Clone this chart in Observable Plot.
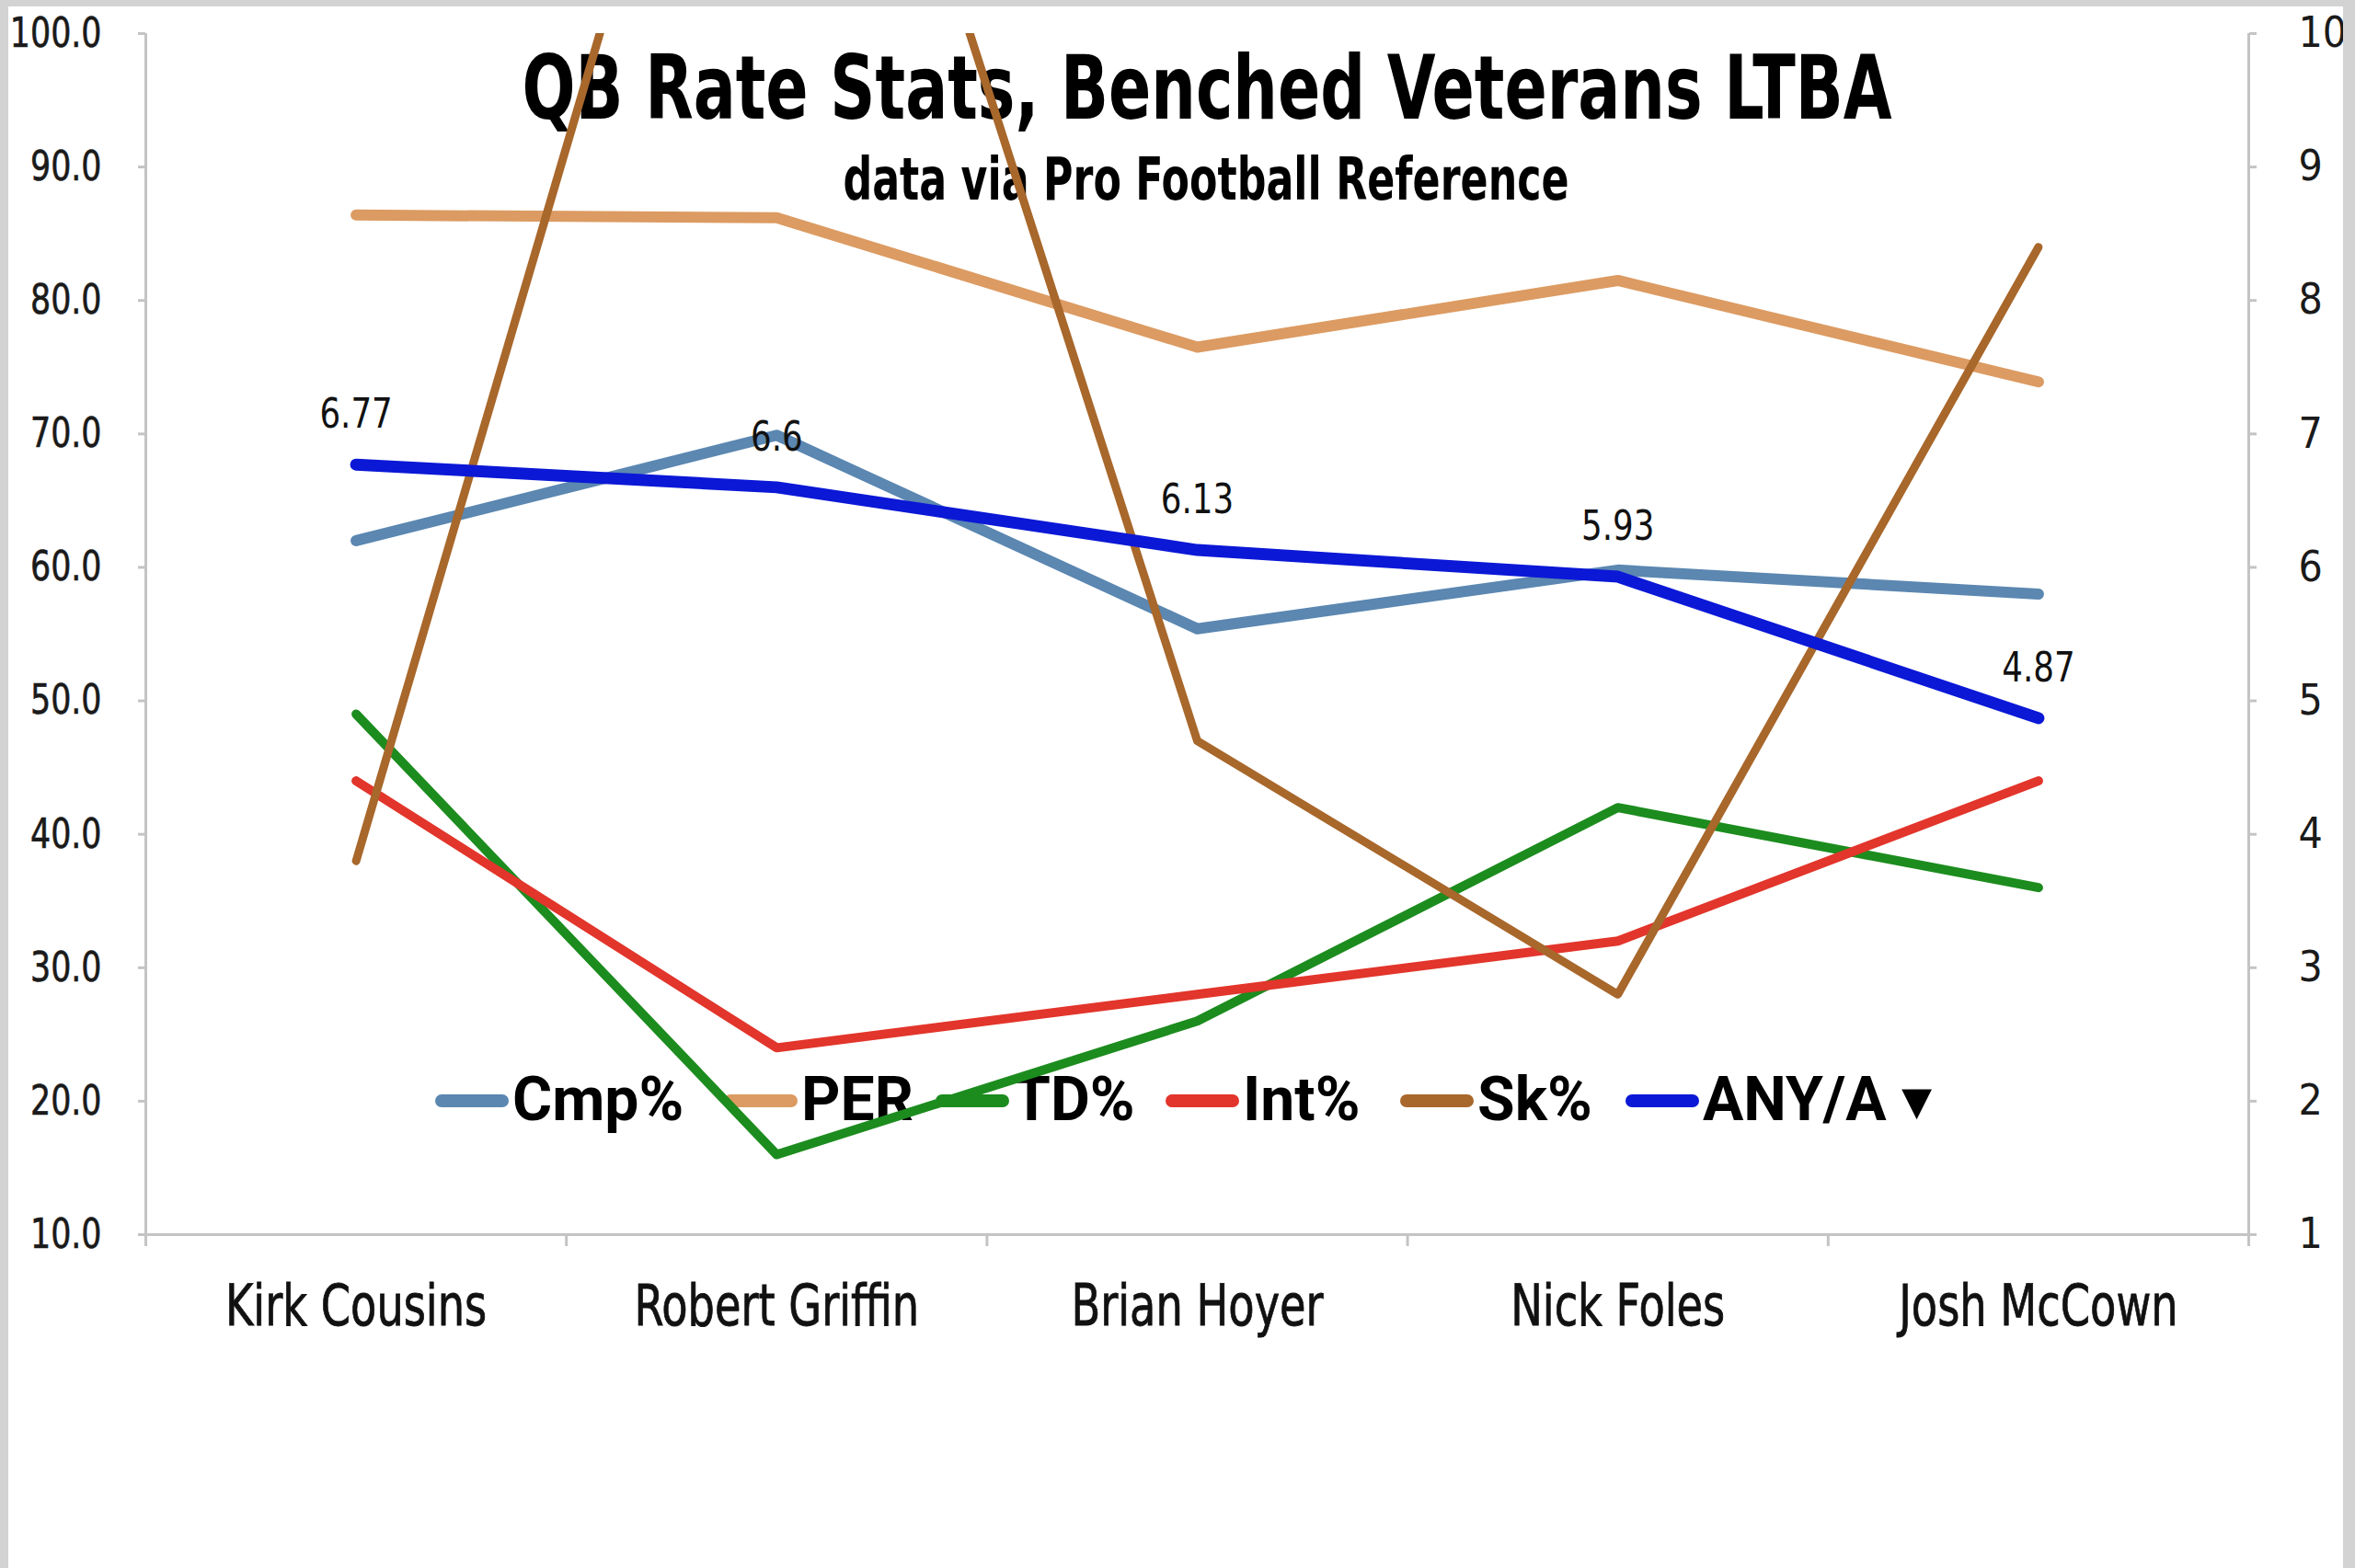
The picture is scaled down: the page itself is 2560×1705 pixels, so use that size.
<!DOCTYPE html>
<html>
<head>
<meta charset="utf-8">
<script src="https://cdn.jsdelivr.net/npm/d3@7"></script>
<script src="https://cdn.jsdelivr.net/npm/@observablehq/plot@0.6"></script>
<style>
html, body { margin: 0; padding: 0; background: #fff; }
#wrap { position: relative; width: 2560px; height: 1705px; overflow: hidden; background: #fff; }
#chart { position: absolute; left: 0; top: 0; z-index: 2; }
.ov { position: absolute; z-index: 1; white-space: nowrap; line-height: 1; }
.narrowb { font-family: "Liberation Sans Narrow", "DejaVu Sans Condensed", sans-serif; font-weight: bold; color: #000; }
.leg { font-family: Roboto, "DejaVu Sans", sans-serif; font-weight: bold; font-size: 66px; color: #000; }
.sw { position: absolute; z-index: 1; height: 14px; border-radius: 7px; width: 80px; }
.border { position: absolute; background: #d3d3d3; z-index: 3; }
</style>
</head>
<body>
<div id="wrap">
  <div class="border" style="left:0;top:0;width:2560px;height:7px"></div>
  <div class="border" style="left:0;top:0;width:9px;height:1705px"></div>
  <div class="border" style="right:0;top:0;width:13px;height:1705px"></div>
  <div id="titles"></div>
  <div id="legend"></div>
  <div id="chart"></div>
</div>
<script>
// ---- data ----
const players = ["Kirk Cousins", "Robert Griffin", "Brian Hoyer", "Nick Foles", "Josh McCown"];
const cmpPct = [62.0, 69.9, 55.4, 59.8, 58.0];
const per    = [86.4, 86.2, 76.5, 81.5, 73.9];
const tdPct  = [4.9, 1.6, 2.6, 4.2, 3.6];
const intPct = [4.4, 2.4, 2.8, 3.2, 4.4];
const skPct  = [3.8, 14.5, 4.7, 2.8, 8.4];
const anyA   = [6.77, 6.6, 6.13, 5.93, 4.87];

const leftTicks = [10, 20, 30, 40, 50, 60, 70, 80, 90, 100];
const rightTickLabels = ["1", "2", "3", "4", "5", "6", "7", "8", "9", "10"];

const seriesNames = ["Cmp%", "PER", "TD%", "Int%", "Sk%", "ANY/A"];
const seriesAxis = ["left", "left", "right", "right", "right", "right"];
const seriesValues = [cmpPct, per, tdPct, intPct, skPct, anyA];

const titleText = "QB Rate Stats, Benched Veterans LTBA";
const subtitleText = "data via Pro Football Reference";

// ---- styles ----
const seriesColors = ["#5b87b1", "#dc9b62", "#1c8c1e", "#e2352b", "#a8672b", "#0b18d6"];
const seriesWidths = [12, 12, 10, 10, 9, 13];
const narrow = "'Liberation Sans Narrow', 'DejaVu Sans Condensed', sans-serif";
const axisGray = "#c4c4c4";

const rows = seriesNames.flatMap((s, k) =>
  players.map((p, i) => ({series: s, i, player: p, value: seriesValues[k][i], axis: seriesAxis[k]}))
);
const yVal = d => d.axis === "right" ? d.value * 10 : d.value;
const catIdx = players.map((p, i) => i);
const catBounds = [-0.5, ...catIdx.map(i => i + 0.5)];

const marks = [
  Plot.ruleY([10], {stroke: axisGray, strokeWidth: 3}),
  Plot.ruleX([catBounds[0], catBounds[catBounds.length - 1]], {y1: 10, y2: 100, stroke: axisGray, strokeWidth: 3}),
  Plot.axisY(leftTicks, {anchor: "left", tickFormat: d3.format(".1f"), tickSize: 8, tickPadding: 40,
    stroke: axisGray, strokeWidth: 3, fill: "#1a1a1a", fontSize: 45, fontFamily: narrow, label: null}),
  Plot.axisY(leftTicks, {anchor: "right", tickFormat: (d, i) => rightTickLabels[i], tickSize: 8, tickPadding: 46,
    stroke: axisGray, strokeWidth: 3, fill: "#1a1a1a", fontSize: 46, fontFamily: narrow, label: null}),
  Plot.axisX(catBounds, {anchor: "bottom", tickSize: 13, tickFormat: () => "", stroke: axisGray, strokeWidth: 3, label: null}),
  Plot.axisX(catIdx, {anchor: "bottom", tickSize: 0, tickPadding: 54, tickFormat: i => players[i],
    fill: "#111", fontSize: 62, fontFamily: narrow, label: null})
];

seriesNames.forEach((s, k) => {
  marks.push(Plot.line(rows.filter(d => d.series === s), {
    x: "i", y: yVal, stroke: seriesColors[k], strokeWidth: seriesWidths[k],
    strokeLinejoin: "round", strokeLinecap: "round", clip: true
  }));
});

marks.push(Plot.text(rows.filter(d => d.series === "ANY/A"), {
  x: "i", y: yVal, text: d => String(d.value), dy: -54, fontSize: 44, fontFamily: narrow, fill: "#111"
}));

const chart = Plot.plot({
  width: 2560,
  height: 1705,
  marginLeft: 158,
  marginRight: 116,
  marginTop: 36,
  marginBottom: 363,
  x: {domain: [catBounds[0], catBounds[catBounds.length - 1]]},
  y: {domain: [10, 100]},
  style: {background: "transparent", overflow: "visible", fontFamily: narrow},
  marks
});
document.getElementById("chart").appendChild(chart);

// condense the (fallback) sans to look like the reference's condensed face
function squeeze(el, f) {
  const L = el.getComputedTextLength();
  if (L > 0) {
    el.setAttribute("textLength", (L * f).toFixed(1));
    el.setAttribute("lengthAdjust", "spacingAndGlyphs");
  }
}
chart.querySelectorAll("g[aria-label='y-axis tick label'] text").forEach(el => {
  const anchor = getComputedStyle(el).textAnchor;
  if (anchor === "end") { squeeze(el, 0.86); el.style.stroke = "#1a1a1a"; el.style.strokeWidth = "0.6px"; }
});
chart.querySelectorAll("g[aria-label='x-axis tick label'] text").forEach(el => {
  squeeze(el, 0.83); el.style.stroke = "#111"; el.style.strokeWidth = "0.8px";
});
chart.querySelectorAll("g[aria-label='text'] text").forEach(el => squeeze(el, 0.9));

// ---- titles (HTML) ----
const titles = document.getElementById("titles");
const t = document.createElement("div");
t.className = "ov narrowb";
t.style.cssText = "left:1312px;top:48px;font-size:96px;transform:translateX(-50%) scaleX(0.79);";
t.textContent = titleText;
titles.appendChild(t);
const st = document.createElement("div");
st.className = "ov narrowb";
st.style.cssText = "left:1311px;top:163px;font-size:64px;transform:translateX(-50%) scaleX(0.77);";
st.textContent = subtitleText;
titles.appendChild(st);

// ---- legend (HTML) ----
const legendX = [473, 787, 1017, 1267, 1522, 1767];
const legend = document.getElementById("legend");
seriesNames.forEach((s, k) => {
  const sw = document.createElement("div");
  sw.className = "sw";
  sw.style.left = legendX[k] + "px";
  sw.style.top = "1190px";
  sw.style.background = seriesColors[k];
  legend.appendChild(sw);
  const lb = document.createElement("div");
  lb.className = "ov leg";
  lb.style.left = (legendX[k] + 84) + "px";
  lb.style.top = "1163px";
  lb.textContent = s + (k === seriesNames.length - 1 ? " \u25BE" : "");
  legend.appendChild(lb);
});
</script>
</body>
</html>
